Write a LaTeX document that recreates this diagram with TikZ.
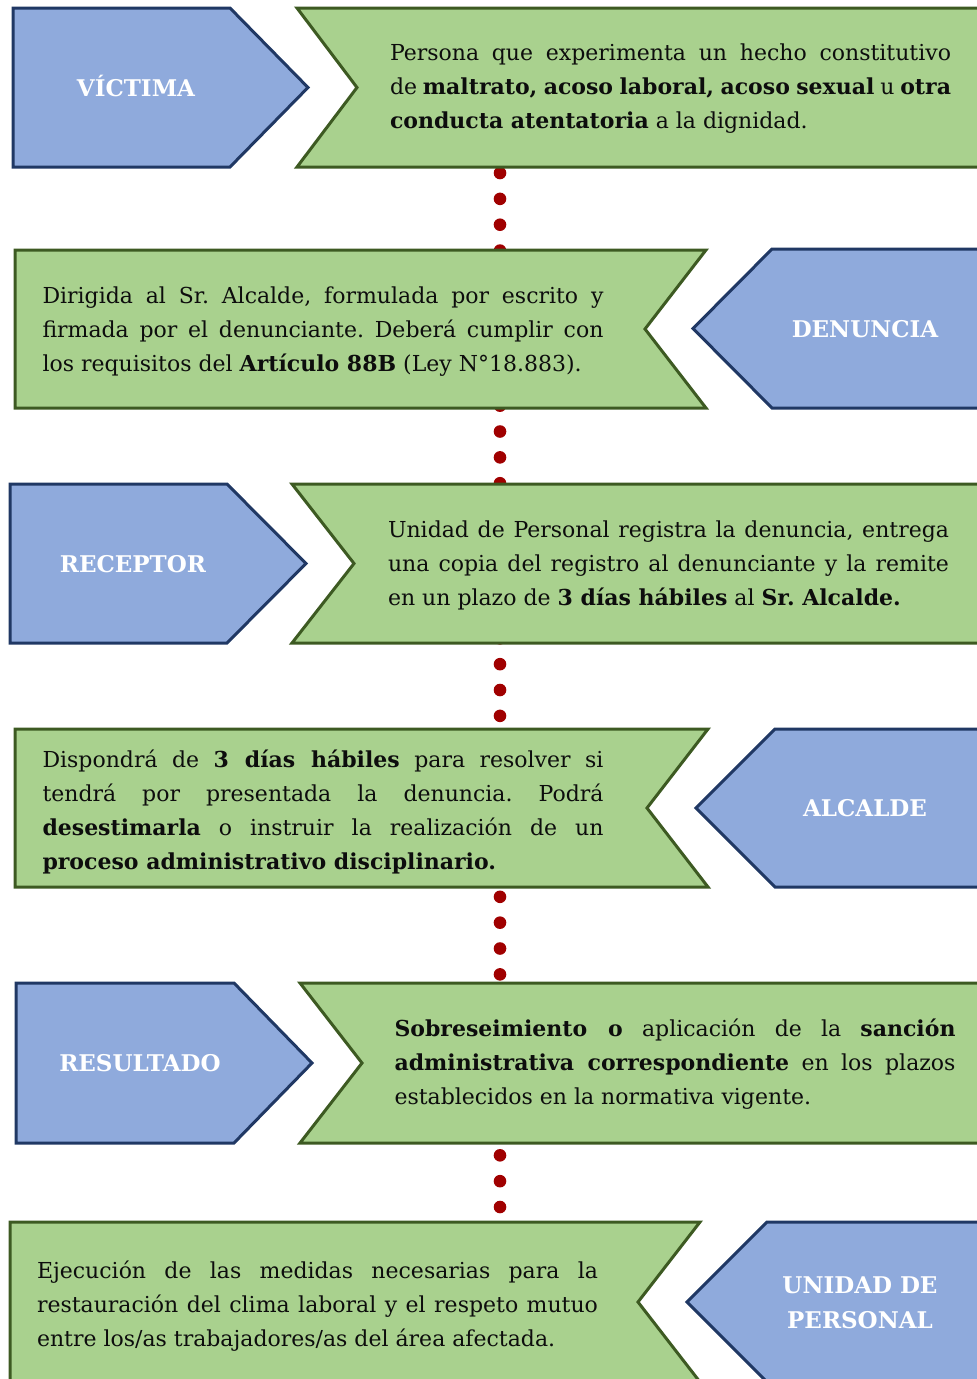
\documentclass[tikz,border=0pt]{standalone}
\usepackage{fontspec}
\setmainfont{DejaVu Serif}
\definecolor{bluefill}{HTML}{8FAADC}
\definecolor{bluedraw}{HTML}{203864}
\definecolor{greenfill}{HTML}{A9D18E}
\definecolor{greendraw}{HTML}{3D5A22}
\definecolor{dotred}{HTML}{A00000}
\definecolor{textcol}{HTML}{0D0D0D}
\newcommand{\jl}[1]{\makebox[561pt][s]{#1}}
\tikzset{
  blueshape/.style={fill=bluefill, draw=bluedraw, line width=3pt, line join=miter},
  greenshape/.style={fill=greenfill, draw=greendraw, line width=3pt, line join=miter},
  lbl/.style={text=white, font=\fontsize{23}{35}\selectfont\bfseries, align=center, inner sep=0pt},
  body/.style={text=textcol, font=\fontsize{22}{34}\selectfont\frenchspacing, align=left, inner sep=0pt},
  dotline/.style={draw=dotred, line width=12.6pt, line cap=round, dash pattern=on 0pt off 25.85pt}
}
\begin{document}
\begin{tikzpicture}[x=1pt,y=-1pt]
\useasboundingbox (0,0) rectangle (977,1379);
\clip (0,0) rectangle (977,1379);
% dotted connector behind all boxes
\coordinate (dtop) at (500,173);
\coordinate (dbot) at (500,1207);
\draw[dotline] (dtop) -- (dbot);
% row 1
\draw[greenshape] (297,8) -- (990,8) -- (990,167) -- (297,167) -- (357,87.5) -- cycle;
\draw[blueshape] (13,8) -- (230,8) -- (308,87.5) -- (230,167) -- (13,167) -- cycle;
% row 2
\draw[greenshape] (15,250) -- (706,250) -- (645,329) -- (706,408) -- (15,408) -- cycle;
\draw[blueshape] (990,249) -- (772,249) -- (693,328.5) -- (772,408) -- (990,408) -- cycle;
% row 3
\draw[blueshape] (10,484) -- (227,484) -- (306,563.5) -- (227,643) -- (10,643) -- cycle;
\draw[greenshape] (292,484) -- (990,484) -- (990,643) -- (292,643) -- (354,563.5) -- cycle;
% row 4
\draw[greenshape] (15,729) -- (708,729) -- (647,808) -- (708,887) -- (15,887) -- cycle;
\draw[blueshape] (990,729) -- (775,729) -- (696,808) -- (775,887) -- (990,887) -- cycle;
% row 5
\draw[blueshape] (16,983) -- (234,983) -- (312,1063) -- (234,1143) -- (16,1143) -- cycle;
\draw[greenshape] (300,983) -- (990,983) -- (990,1143) -- (300,1143) -- (362,1063) -- cycle;
% row 6
\draw[greenshape] (10,1222) -- (700,1222) -- (638,1302) -- (700,1382) -- (10,1382) -- cycle;
\draw[blueshape] (990,1222) -- (767,1222) -- (687,1302) -- (767,1382) -- (990,1382) -- cycle;
% labels
\node[lbl, text height=17pt, text depth=0pt] (victima) at (136,88) {VÍCTIMA};
\node[lbl, text height=17pt, text depth=0pt] (denuncia) at (865,329) {DENUNCIA};
\node[lbl, text height=17pt, text depth=0pt] (receptor) at (133,564) {RECEPTOR};
\node[lbl, text height=17pt, text depth=0pt] (alcalde) at (865,808) {ALCALDE};
\node[lbl, text height=17pt, text depth=0pt] (resultado) at (140,1063) {RESULTADO};
\node[lbl] (unidad) at (860,1303) {UNIDAD DE\\PERSONAL};
% texts
\node[body] (t1) at (670.5,89) {\jl{Persona que experimenta un hecho constitutivo}\\
\jl{de \textbf{maltrato, acoso laboral, acoso sexual} u \textbf{otra}}\\
\textbf{conducta atentatoria} a la dignidad.};
\node[body] (t2) at (323,332) {\jl{Dirigida al Sr. Alcalde, formulada por escrito y}\\
\jl{firmada por el denunciante. Deberá cumplir con}\\
los requisitos del \textbf{Artículo 88B} (Ley N°18.883).};
\node[body] (t3) at (668.5,565) {\jl{Unidad de Personal registra la denuncia, entrega}\\
\jl{una copia del registro al denunciante y la remite}\\
en un plazo de \textbf{3 días hábiles} al \textbf{Sr. Alcalde.}};
\node[body] (t4) at (323,812) {\jl{Dispondrá de \textbf{3 días hábiles} para resolver si}\\
\jl{tendrá por presentada la denuncia. Podrá}\\
\jl{\textbf{desestimarla} o instruir la realización de un}\\
\textbf{proceso administrativo disciplinario.}};
\node[body] (t5) at (675,1064) {\jl{\textbf{Sobreseimiento o} aplicación de la \textbf{sanción}}\\
\jl{\textbf{administrativa correspondiente} en los plazos}\\
establecidos en la normativa vigente.};
\node[body] (t6) at (317.5,1306) {\jl{Ejecución de las medidas necesarias para la}\\
\jl{restauración del clima laboral y el respeto mutuo}\\
entre los/as trabajadores/as del área afectada.};
\end{tikzpicture}
\end{document}
